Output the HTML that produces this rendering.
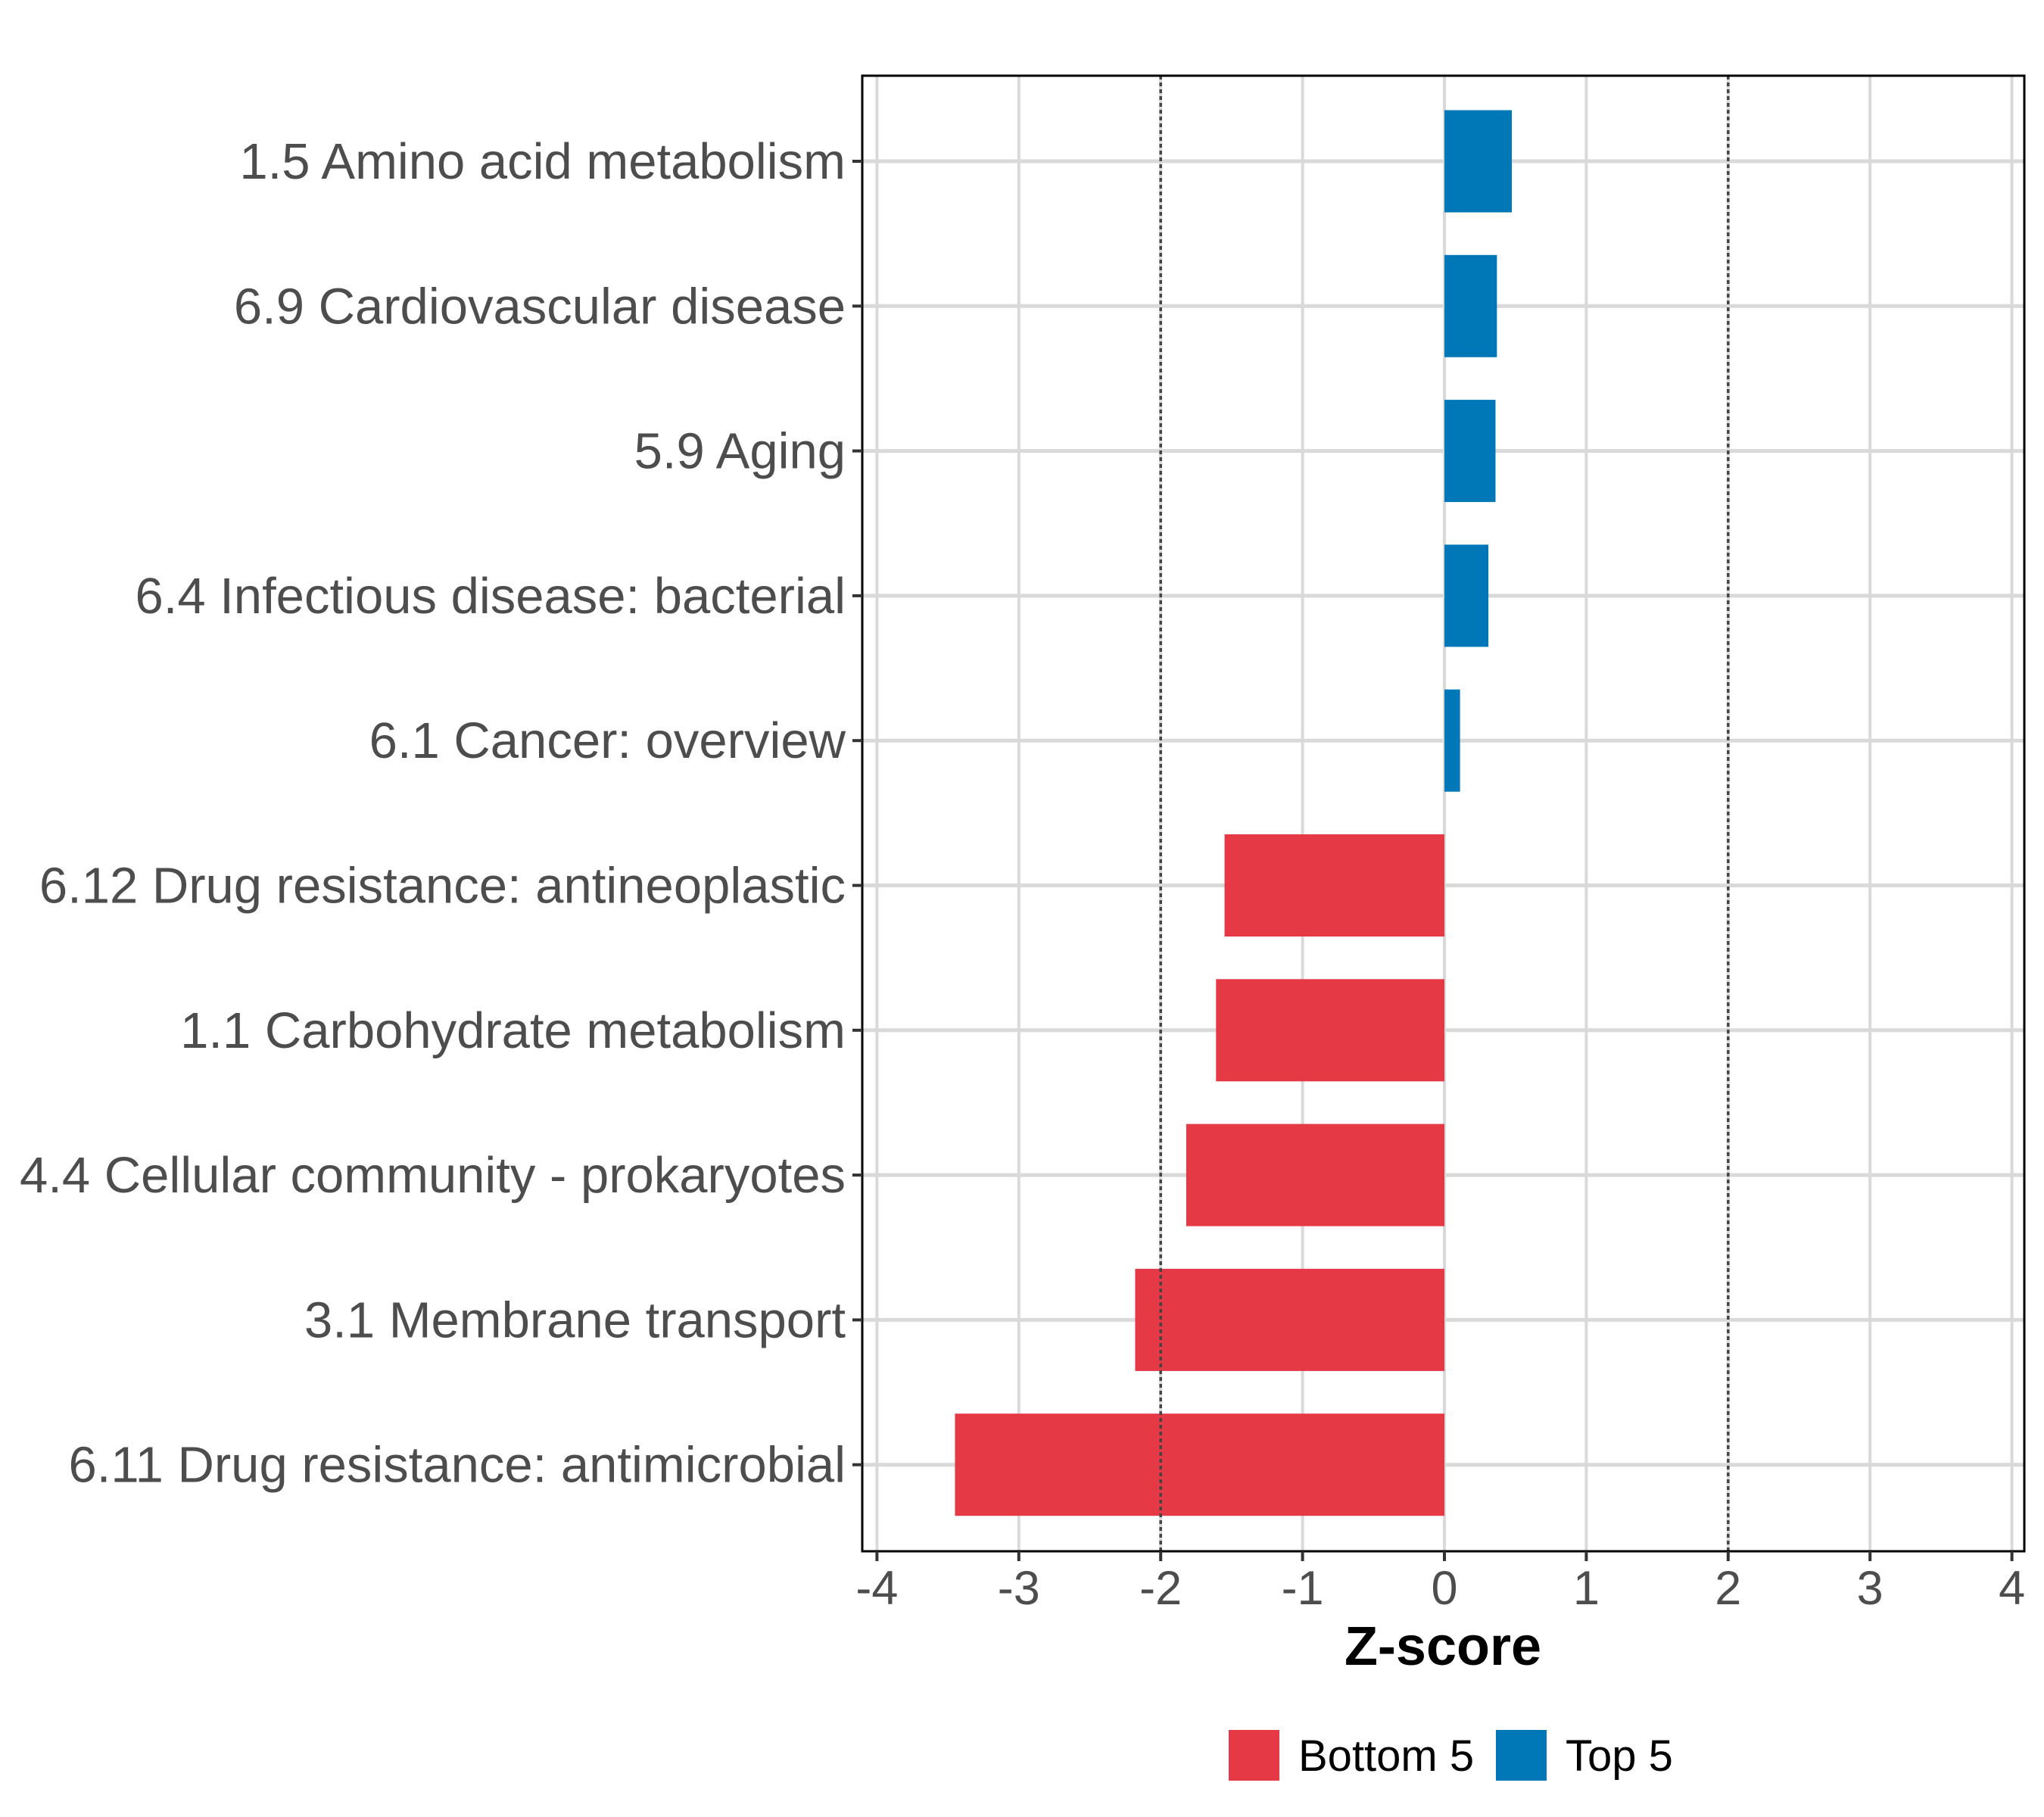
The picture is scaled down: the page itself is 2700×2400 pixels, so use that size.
<!DOCTYPE html>
<html><head><meta charset="utf-8"><style>html,body{margin:0;padding:0;background:#fff}svg{display:block}</style></head>
<body>
<svg id="chart" width="2700" height="2400" xmlns="http://www.w3.org/2000/svg" font-family="Liberation Sans, Arial, sans-serif">
<rect width="2700" height="2400" fill="#fff"/>
<g id="grid"></g>
<g id="bars"></g>
<g id="refs"></g>
<rect x="1139" y="100" width="1535" height="1949" fill="none" stroke="#000" stroke-width="3"/>
<g id="axes"></g>
<text x="1906" y="2199" font-size="72" font-weight="bold" text-anchor="middle" fill="#000">Z-score</text>
<g>
<g>
<rect x="1623" y="2285" width="67" height="67" fill="#E63946"/>
<text x="1715" y="2339" font-size="58" fill="#000">Bottom 5</text></g>
<g>
<rect x="1976" y="2285" width="67" height="67" fill="#0077B6"/>
<text x="2068" y="2339" font-size="58" fill="#000">Top 5</text></g>
</g>
</svg>
<script>
const categories = ["1.5 Amino acid metabolism","6.9 Cardiovascular disease","5.9 Aging","6.4 Infectious disease: bacterial","6.1 Cancer: overview","6.12 Drug resistance: antineoplastic","1.1 Carbohydrate metabolism","4.4 Cellular community - prokaryotes","3.1 Membrane transport","6.11 Drug resistance: antimicrobial"];
const zScores = [0.475, 0.37, 0.36, 0.31, 0.11, -1.55, -1.61, -1.82, -2.18, -3.45];
const groups = ["Top 5","Top 5","Top 5","Top 5","Top 5","Bottom 5","Bottom 5","Bottom 5","Bottom 5","Bottom 5"];
const xTicks = [-4,-3,-2,-1,0,1,2,3,4];
const xTickLabels = ["-4","-3","-2","-1","0","1","2","3","4"];
const refLines = [-2, 2];

const NS = "http://www.w3.org/2000/svg";
const PL = 1139, PR = 2674, PT = 100, PB = 2049;
const x = v => 1908 + v * 187.4;
const y = i => 213 + i * 191.3;
const colors = {"Top 5":"#0077B6","Bottom 5":"#E63946"};
function mk(tag, attrs, parent){const e=document.createElementNS(NS,tag);for(const k in attrs)e.setAttribute(k,attrs[k]);parent.appendChild(e);return e;}
const grid=document.getElementById('grid'), bars=document.getElementById('bars'), refs=document.getElementById('refs'), axes=document.getElementById('axes');
xTicks.forEach((t,i)=>{
  const g=mk('line',{x1:x(t),x2:x(t),y1:PT,y2:PB,stroke:'#d9d9d9','stroke-width':4},grid);
  
  
  const tk=mk('line',{x1:x(t),x2:x(t),y1:PB,y2:PB+13,stroke:'#333','stroke-width':4},axes);
  
  
  const lb=mk('text',{x:x(t),y:2119,'font-size':63,'text-anchor':'middle',fill:'#4d4d4d'},axes);
  lb.textContent=xTickLabels[i];
  
  
});
categories.forEach((c,i)=>{
  const g=mk('line',{x1:PL,x2:PR,y1:y(i),y2:y(i),stroke:'#d9d9d9','stroke-width':5},grid);
  
  
  const v=zScores[i];
  const b=mk('rect',{x:Math.min(x(0),x(v)),y:y(i)-67.5,width:Math.abs(x(v)-x(0)),height:135,fill:colors[groups[i]]},bars);
  
  
  const tk=mk('line',{x1:PL-13,x2:PL,y1:y(i),y2:y(i),stroke:'#333','stroke-width':4},axes);
  
  
  const lb=mk('text',{x:PL-22,y:y(i)+23,'font-size':67,'text-anchor':'end',fill:'#4d4d4d'},axes);
  lb.textContent=c;
  
  
});
refLines.forEach(r=>{
  const l=mk('line',{x1:x(r),x2:x(r),y1:PT,y2:PB,stroke:'#444','stroke-width':3.5,'stroke-dasharray':'5 4'},refs);
  
  
});
</script>
</body></html>
